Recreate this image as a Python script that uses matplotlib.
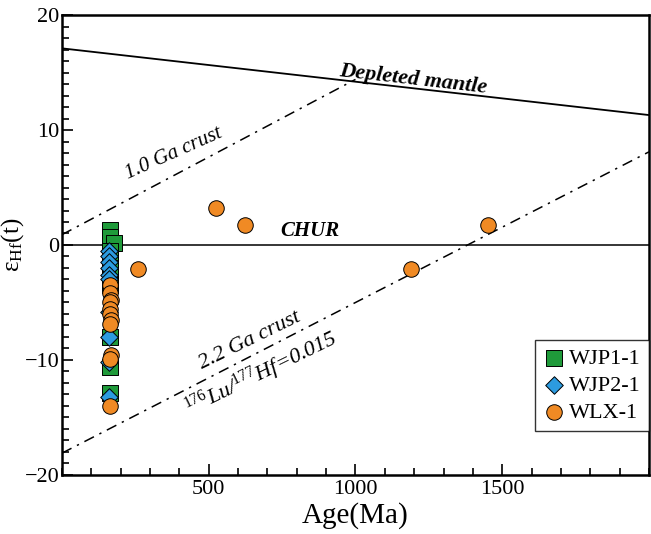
import numpy as np
import matplotlib
matplotlib.use("Agg")
import matplotlib.pyplot as plt
from matplotlib.ticker import MultipleLocator

plt.rcParams['font.family'] = ['Liberation Serif', 'DejaVu Serif']
plt.rcParams['mathtext.fontset'] = 'custom'
plt.rcParams['mathtext.rm'] = 'Liberation Serif'
plt.rcParams['mathtext.it'] = 'Liberation Serif:italic'

# zircon Hf data
wjp1_age = [163, 163, 178, 163, 163, 163, 163, 163, 163, 163, 163]
wjp1_ehf = [1.3, 0.7, 0.2, -0.5, -1.2, -2.0, -2.8, -3.5, -8.0, -10.6, -12.9]

wjp2_age = [160, 160, 160, 160, 160, 160, 160, 160, 160, 160]
wjp2_ehf = [-0.5, -1.0, -1.5, -2.0, -2.6, -3.0, -5.8, -8.0, -10.2, -13.2]

wlx_age = [165, 163, 167, 162, 165, 163, 166, 164, 166, 163, 165,
           258, 525, 625, 1190, 1450]
wlx_ehf = [-3.5, -4.2, -4.8, -5.0, -5.6, -6.0, -6.5, -6.9, -9.6, -9.9, -14.0,
           -2.1, 3.2, 1.7, -2.1, 1.7]

# reference evolution lines (age, eHf)
dm_age = [0, 2000]
dm_ehf = [17.1, 11.3]
crust10_age = [0, 1000]
crust10_ehf = [0.9, 14.4]
crust22_age = [0, 2000]
crust22_ehf = [-18.1, 8.1]

fig = plt.figure(figsize=(6.51, 5.34), dpi=100)
ax = fig.add_axes([0.0952, 0.1105, 0.9017, 0.8614])

ax.plot(dm_age, dm_ehf, color='black', lw=1.3)
ax.axhline(0, color='black', lw=1.1)
ax.plot(crust10_age, crust10_ehf, color='black', lw=1.1, ls=(0, (7, 4, 1.5, 4)))
ax.plot(crust22_age, crust22_ehf, color='black', lw=1.1, ls=(0, (7, 4, 1.5, 4)))

ax.scatter(wjp1_age, wjp1_ehf, marker='s', s=120, color='#1f9a3a',
           edgecolors='black', linewidths=0.7, label='WJP1-1', zorder=3)
ax.scatter(wjp2_age, wjp2_ehf, marker='D', s=80, color='#2c9be0',
           edgecolors='black', linewidths=0.7, label='WJP2-1', zorder=4)
ax.scatter(wlx_age, wlx_ehf, marker='o', s=125, color='#f08a24',
           edgecolors='black', linewidths=0.7, label='WLX-1', zorder=5)

ax.text(1195, 14.4, 'Depleted mantle', fontsize=16, fontweight='bold',
        style='italic', rotation=-6.5, ha='center', va='center')
ax.text(845, 1.2, 'CHUR', fontsize=15, fontweight='bold', style='italic',
        ha='center', va='center')
ax.text(380, 7.9, '1.0 Ga crust', fontsize=15, style='italic',
        rotation=24, ha='center', va='center')
ax.text(640, -8.3, '2.2 Ga crust', fontsize=16, style='italic',
        rotation=26, ha='center', va='center')
ax.text(680, -11.2, r'$^{176}$Lu/$^{177}$Hf=0.015', fontsize=16, style='italic',
        rotation=26, ha='center', va='center')

ax.set_xlim(0, 2000)
ax.set_ylim(-20, 20)
ax.set_xticks([500, 1000, 1500])
ax.set_yticks([-20, -10, 0, 10, 20])
ax.xaxis.set_minor_locator(MultipleLocator(100))
ax.yaxis.set_minor_locator(MultipleLocator(1))
ax.tick_params(which='both', direction='in', labelsize=16, width=1.2)
ax.tick_params(axis='y', pad=2)
ax.tick_params(which='major', length=8)
ax.tick_params(which='minor', length=5)
for s in ax.spines.values():
    s.set_linewidth(1.8)

ax.set_xlabel('Age(Ma)', fontsize=21, labelpad=2)
ax.set_ylabel(r'ε$_{\mathrm{Hf}}$(t)', fontsize=18, labelpad=-1)

leg = ax.legend(loc='upper right', bbox_to_anchor=(1.0, 0.293), fontsize=16,
                frameon=True, fancybox=False, edgecolor='black',
                handletextpad=0.2, borderpad=0.35, handlelength=1.0,
                labelspacing=0.3, borderaxespad=0)
leg.get_frame().set_linewidth(1.0)

fig.savefig('out.png', dpi=100)
